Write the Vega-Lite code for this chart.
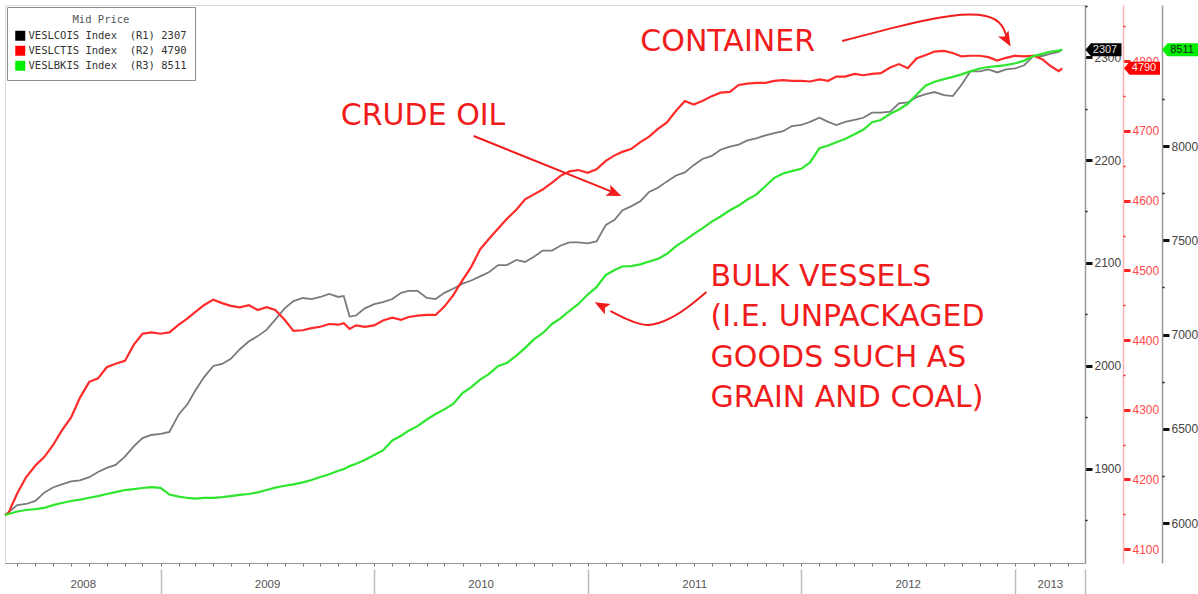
{
  "$schema": "https://vega.github.io/schema/vega-lite/v6.json",
  "width": 1080,
  "height": 558,
  "autosize": "none",
  "padding": {"left": 5, "top": 5, "right": 113, "bottom": 31},
  "background": "white",
  "config": {
    "view": {"stroke": "#d9d9d9"},
    "font": "Liberation Sans",
    "axis": {"grid": false, "labelFont": "Liberation Sans"},
    "legend": {
      "offset": 2, "padding": 8, "strokeColor": "#8c8c8c", "fillColor": "#ffffff",
      "titleFont": "DejaVu Sans Mono", "titleFontSize": 10.5, "titleFontWeight": "normal", "titleColor": "#555555",
      "titleAnchor": "middle", "titlePadding": 5,
      "labelFont": "DejaVu Sans Mono", "labelFontSize": 10.5, "labelColor": "#333333",
      "symbolSize": 100, "symbolStrokeWidth": 0, "rowPadding": 4, "labelOffset": 3
    }
  },
  "datasets": {
    "idx": [
      {"d": "2008-04-10", "VESLCOIS": 1855, "VESLCTIS": 4149, "VESLBKIS": 6043},
      {"d": "2008-04-16", "VESLCOIS": 1858, "VESLCTIS": 4152, "VESLBKIS": 6048},
      {"d": "2008-05-01", "VESLCOIS": 1865, "VESLCTIS": 4180, "VESLBKIS": 6061},
      {"d": "2008-05-16", "VESLCOIS": 1866, "VESLCTIS": 4203, "VESLBKIS": 6069},
      {"d": "2008-06-01", "VESLCOIS": 1869, "VESLCTIS": 4220, "VESLBKIS": 6074},
      {"d": "2008-06-16", "VESLCOIS": 1877, "VESLCTIS": 4232, "VESLBKIS": 6080},
      {"d": "2008-07-01", "VESLCOIS": 1882, "VESLCTIS": 4249, "VESLBKIS": 6095},
      {"d": "2008-07-16", "VESLCOIS": 1885, "VESLCTIS": 4270, "VESLBKIS": 6106},
      {"d": "2008-08-01", "VESLCOIS": 1888, "VESLCTIS": 4289, "VESLBKIS": 6117},
      {"d": "2008-08-16", "VESLCOIS": 1889, "VESLCTIS": 4317, "VESLBKIS": 6124},
      {"d": "2008-09-01", "VESLCOIS": 1892, "VESLCTIS": 4340, "VESLBKIS": 6134},
      {"d": "2008-09-16", "VESLCOIS": 1897, "VESLCTIS": 4345, "VESLBKIS": 6143},
      {"d": "2008-10-01", "VESLCOIS": 1901, "VESLCTIS": 4361, "VESLBKIS": 6154},
      {"d": "2008-10-16", "VESLCOIS": 1904, "VESLCTIS": 4366, "VESLBKIS": 6164},
      {"d": "2008-11-01", "VESLCOIS": 1912, "VESLCTIS": 4370, "VESLBKIS": 6175},
      {"d": "2008-11-16", "VESLCOIS": 1922, "VESLCTIS": 4393, "VESLBKIS": 6180},
      {"d": "2008-12-01", "VESLCOIS": 1930, "VESLCTIS": 4409, "VESLBKIS": 6186},
      {"d": "2008-12-16", "VESLCOIS": 1933, "VESLCTIS": 4411, "VESLBKIS": 6190},
      {"d": "2009-01-01", "VESLCOIS": 1934, "VESLCTIS": 4409, "VESLBKIS": 6187},
      {"d": "2009-01-16", "VESLCOIS": 1936, "VESLCTIS": 4411, "VESLBKIS": 6151},
      {"d": "2009-02-01", "VESLCOIS": 1953, "VESLCTIS": 4422, "VESLBKIS": 6140},
      {"d": "2009-02-16", "VESLCOIS": 1963, "VESLCTIS": 4431, "VESLBKIS": 6133},
      {"d": "2009-03-01", "VESLCOIS": 1976, "VESLCTIS": 4440, "VESLBKIS": 6130},
      {"d": "2009-03-16", "VESLCOIS": 1989, "VESLCTIS": 4450, "VESLBKIS": 6133},
      {"d": "2009-04-01", "VESLCOIS": 2000, "VESLCTIS": 4458, "VESLBKIS": 6133},
      {"d": "2009-04-16", "VESLCOIS": 2002, "VESLCTIS": 4453, "VESLBKIS": 6137},
      {"d": "2009-05-01", "VESLCOIS": 2007, "VESLCTIS": 4449, "VESLBKIS": 6143},
      {"d": "2009-05-16", "VESLCOIS": 2016, "VESLCTIS": 4447, "VESLBKIS": 6149},
      {"d": "2009-06-01", "VESLCOIS": 2024, "VESLCTIS": 4450, "VESLBKIS": 6154},
      {"d": "2009-06-16", "VESLCOIS": 2029, "VESLCTIS": 4443, "VESLBKIS": 6163},
      {"d": "2009-07-01", "VESLCOIS": 2035, "VESLCTIS": 4447, "VESLBKIS": 6175},
      {"d": "2009-07-16", "VESLCOIS": 2045, "VESLCTIS": 4443, "VESLBKIS": 6188},
      {"d": "2009-08-01", "VESLCOIS": 2056, "VESLCTIS": 4429, "VESLBKIS": 6198},
      {"d": "2009-08-16", "VESLCOIS": 2063, "VESLCTIS": 4413, "VESLBKIS": 6205},
      {"d": "2009-09-01", "VESLCOIS": 2066, "VESLCTIS": 4414, "VESLBKIS": 6216},
      {"d": "2009-09-16", "VESLCOIS": 2065, "VESLCTIS": 4417, "VESLBKIS": 6228},
      {"d": "2009-10-01", "VESLCOIS": 2067, "VESLCTIS": 4419, "VESLBKIS": 6244},
      {"d": "2009-10-16", "VESLCOIS": 2070, "VESLCTIS": 4423, "VESLBKIS": 6259},
      {"d": "2009-11-01", "VESLCOIS": 2067, "VESLCTIS": 4422, "VESLBKIS": 6277},
      {"d": "2009-11-10", "VESLCOIS": 2068, "VESLCTIS": 4424, "VESLBKIS": 6286},
      {"d": "2009-11-20", "VESLCOIS": 2048, "VESLCTIS": 4416, "VESLBKIS": 6302},
      {"d": "2009-12-01", "VESLCOIS": 2049, "VESLCTIS": 4421, "VESLBKIS": 6315},
      {"d": "2009-12-16", "VESLCOIS": 2056, "VESLCTIS": 4419, "VESLBKIS": 6334},
      {"d": "2010-01-01", "VESLCOIS": 2060, "VESLCTIS": 4421, "VESLBKIS": 6361},
      {"d": "2010-01-16", "VESLCOIS": 2062, "VESLCTIS": 4428, "VESLBKIS": 6385},
      {"d": "2010-02-01", "VESLCOIS": 2065, "VESLCTIS": 4432, "VESLBKIS": 6438},
      {"d": "2010-02-16", "VESLCOIS": 2071, "VESLCTIS": 4429, "VESLBKIS": 6463},
      {"d": "2010-03-01", "VESLCOIS": 2073, "VESLCTIS": 4433, "VESLBKIS": 6490},
      {"d": "2010-03-16", "VESLCOIS": 2073, "VESLCTIS": 4435, "VESLBKIS": 6514},
      {"d": "2010-04-01", "VESLCOIS": 2066, "VESLCTIS": 4436, "VESLBKIS": 6549},
      {"d": "2010-04-16", "VESLCOIS": 2065, "VESLCTIS": 4436, "VESLBKIS": 6578},
      {"d": "2010-05-01", "VESLCOIS": 2071, "VESLCTIS": 4448, "VESLBKIS": 6603},
      {"d": "2010-05-16", "VESLCOIS": 2075, "VESLCTIS": 4464, "VESLBKIS": 6632},
      {"d": "2010-06-01", "VESLCOIS": 2080, "VESLCTIS": 4486, "VESLBKIS": 6689},
      {"d": "2010-06-16", "VESLCOIS": 2083, "VESLCTIS": 4505, "VESLBKIS": 6721},
      {"d": "2010-07-01", "VESLCOIS": 2087, "VESLCTIS": 4530, "VESLBKIS": 6761},
      {"d": "2010-07-16", "VESLCOIS": 2091, "VESLCTIS": 4545, "VESLBKIS": 6790},
      {"d": "2010-08-01", "VESLCOIS": 2098, "VESLCTIS": 4560, "VESLBKIS": 6833},
      {"d": "2010-08-16", "VESLCOIS": 2098, "VESLCTIS": 4574, "VESLBKIS": 6849},
      {"d": "2010-09-01", "VESLCOIS": 2103, "VESLCTIS": 4587, "VESLBKIS": 6888},
      {"d": "2010-09-16", "VESLCOIS": 2101, "VESLCTIS": 4602, "VESLBKIS": 6929},
      {"d": "2010-10-01", "VESLCOIS": 2106, "VESLCTIS": 4609, "VESLBKIS": 6974},
      {"d": "2010-10-16", "VESLCOIS": 2112, "VESLCTIS": 4616, "VESLBKIS": 7007},
      {"d": "2010-11-01", "VESLCOIS": 2112, "VESLCTIS": 4626, "VESLBKIS": 7056},
      {"d": "2010-11-16", "VESLCOIS": 2117, "VESLCTIS": 4636, "VESLBKIS": 7087},
      {"d": "2010-12-01", "VESLCOIS": 2120, "VESLCTIS": 4642, "VESLBKIS": 7126},
      {"d": "2010-12-16", "VESLCOIS": 2120, "VESLCTIS": 4644, "VESLBKIS": 7162},
      {"d": "2011-01-01", "VESLCOIS": 2119, "VESLCTIS": 4640, "VESLBKIS": 7212},
      {"d": "2011-01-16", "VESLCOIS": 2121, "VESLCTIS": 4645, "VESLBKIS": 7251},
      {"d": "2011-02-01", "VESLCOIS": 2137, "VESLCTIS": 4657, "VESLBKIS": 7316},
      {"d": "2011-02-16", "VESLCOIS": 2142, "VESLCTIS": 4665, "VESLBKIS": 7342},
      {"d": "2011-03-01", "VESLCOIS": 2151, "VESLCTIS": 4670, "VESLBKIS": 7361},
      {"d": "2011-03-16", "VESLCOIS": 2155, "VESLCTIS": 4674, "VESLBKIS": 7363},
      {"d": "2011-04-01", "VESLCOIS": 2160, "VESLCTIS": 4684, "VESLBKIS": 7372},
      {"d": "2011-04-16", "VESLCOIS": 2169, "VESLCTIS": 4692, "VESLBKIS": 7387},
      {"d": "2011-05-01", "VESLCOIS": 2173, "VESLCTIS": 4703, "VESLBKIS": 7401},
      {"d": "2011-05-16", "VESLCOIS": 2179, "VESLCTIS": 4712, "VESLBKIS": 7427},
      {"d": "2011-06-01", "VESLCOIS": 2185, "VESLCTIS": 4729, "VESLBKIS": 7469},
      {"d": "2011-06-16", "VESLCOIS": 2188, "VESLCTIS": 4743, "VESLBKIS": 7499},
      {"d": "2011-07-01", "VESLCOIS": 2195, "VESLCTIS": 4738, "VESLBKIS": 7533},
      {"d": "2011-07-16", "VESLCOIS": 2201, "VESLCTIS": 4743, "VESLBKIS": 7563},
      {"d": "2011-08-01", "VESLCOIS": 2204, "VESLCTIS": 4750, "VESLBKIS": 7599},
      {"d": "2011-08-16", "VESLCOIS": 2210, "VESLCTIS": 4755, "VESLBKIS": 7626},
      {"d": "2011-09-01", "VESLCOIS": 2213, "VESLCTIS": 4756, "VESLBKIS": 7659},
      {"d": "2011-09-16", "VESLCOIS": 2215, "VESLCTIS": 4766, "VESLBKIS": 7684},
      {"d": "2011-10-01", "VESLCOIS": 2219, "VESLCTIS": 4768, "VESLBKIS": 7716},
      {"d": "2011-10-16", "VESLCOIS": 2221, "VESLCTIS": 4769, "VESLBKIS": 7742},
      {"d": "2011-11-01", "VESLCOIS": 2224, "VESLCTIS": 4769, "VESLBKIS": 7788},
      {"d": "2011-11-16", "VESLCOIS": 2226, "VESLCTIS": 4772, "VESLBKIS": 7831},
      {"d": "2011-12-01", "VESLCOIS": 2228, "VESLCTIS": 4773, "VESLBKIS": 7854},
      {"d": "2011-12-16", "VESLCOIS": 2233, "VESLCTIS": 4772, "VESLBKIS": 7867},
      {"d": "2012-01-01", "VESLCOIS": 2234, "VESLCTIS": 4772, "VESLBKIS": 7879},
      {"d": "2012-01-16", "VESLCOIS": 2237, "VESLCTIS": 4771, "VESLBKIS": 7913},
      {"d": "2012-02-01", "VESLCOIS": 2241, "VESLCTIS": 4774, "VESLBKIS": 7988},
      {"d": "2012-02-16", "VESLCOIS": 2237, "VESLCTIS": 4772, "VESLBKIS": 8003},
      {"d": "2012-03-01", "VESLCOIS": 2234, "VESLCTIS": 4778, "VESLBKIS": 8020},
      {"d": "2012-03-16", "VESLCOIS": 2237, "VESLCTIS": 4778, "VESLBKIS": 8037},
      {"d": "2012-04-01", "VESLCOIS": 2239, "VESLCTIS": 4782, "VESLBKIS": 8062},
      {"d": "2012-04-16", "VESLCOIS": 2241, "VESLCTIS": 4780, "VESLBKIS": 8086},
      {"d": "2012-05-01", "VESLCOIS": 2246, "VESLCTIS": 4782, "VESLBKIS": 8126},
      {"d": "2012-05-16", "VESLCOIS": 2246, "VESLCTIS": 4783, "VESLBKIS": 8138},
      {"d": "2012-06-01", "VESLCOIS": 2247, "VESLCTIS": 4791, "VESLBKIS": 8171},
      {"d": "2012-06-16", "VESLCOIS": 2255, "VESLCTIS": 4796, "VESLBKIS": 8194},
      {"d": "2012-07-01", "VESLCOIS": 2256, "VESLCTIS": 4790, "VESLBKIS": 8224},
      {"d": "2012-07-16", "VESLCOIS": 2261, "VESLCTIS": 4804, "VESLBKIS": 8272},
      {"d": "2012-08-01", "VESLCOIS": 2264, "VESLCTIS": 4809, "VESLBKIS": 8321},
      {"d": "2012-08-16", "VESLCOIS": 2266, "VESLCTIS": 4814, "VESLBKIS": 8341},
      {"d": "2012-09-01", "VESLCOIS": 2263, "VESLCTIS": 4815, "VESLBKIS": 8355},
      {"d": "2012-09-16", "VESLCOIS": 2262, "VESLCTIS": 4812, "VESLBKIS": 8367},
      {"d": "2012-10-01", "VESLCOIS": 2273, "VESLCTIS": 4807, "VESLBKIS": 8380},
      {"d": "2012-10-16", "VESLCOIS": 2286, "VESLCTIS": 4808, "VESLBKIS": 8396},
      {"d": "2012-11-01", "VESLCOIS": 2286, "VESLCTIS": 4808, "VESLBKIS": 8411},
      {"d": "2012-11-16", "VESLCOIS": 2288, "VESLCTIS": 4806, "VESLBKIS": 8419},
      {"d": "2012-12-01", "VESLCOIS": 2285, "VESLCTIS": 4801, "VESLBKIS": 8424},
      {"d": "2012-12-16", "VESLCOIS": 2288, "VESLCTIS": 4805, "VESLBKIS": 8429},
      {"d": "2013-01-01", "VESLCOIS": 2289, "VESLCTIS": 4808, "VESLBKIS": 8439},
      {"d": "2013-01-16", "VESLCOIS": 2292, "VESLCTIS": 4807, "VESLBKIS": 8453},
      {"d": "2013-02-01", "VESLCOIS": 2301, "VESLCTIS": 4808, "VESLBKIS": 8477},
      {"d": "2013-02-16", "VESLCOIS": 2301, "VESLCTIS": 4803, "VESLBKIS": 8489},
      {"d": "2013-03-01", "VESLCOIS": 2303, "VESLCTIS": 4794, "VESLBKIS": 8500},
      {"d": "2013-03-16", "VESLCOIS": 2305, "VESLCTIS": 4786, "VESLBKIS": 8506},
      {"d": "2013-03-22", "VESLCOIS": 2307, "VESLCTIS": 4790, "VESLBKIS": 8511}
    ],
    "tags": [
      {"k": "R1", "series": "VESLCOIS Index\u00a0 (R1) 2307", "d": "2013-04-30", "v": 2307},
      {"k": "R2", "series": "VESLCTIS Index\u00a0 (R2) 4790", "d": "2013-04-30", "v": 4790},
      {"k": "R3", "series": "VESLBKIS Index\u00a0 (R3) 8511", "d": "2013-04-30", "v": 8511}
    ],
    "notes": [
      {"d": "2011-04-01", "v": 2305.8, "t": ["CONTAINER"]},
      {"d": "2009-11-05", "v": 2234, "t": ["CRUDE OIL"]},
      {"d": "2011-07-30", "v": 2077.7, "t": ["BULK VESSELS", "(I.E. UNPACKAGED", "GOODS SUCH AS", "GRAIN AND COAL)"]}
    ],
    "arrows": [
      {"g": "C", "i": 1, "d": "2012-03-11", "v": 2315.5},
      {"g": "C", "i": 2, "d": "2012-06-18", "v": 2330},
      {"g": "C", "i": 3, "d": "2012-09-12", "v": 2339.8},
      {"g": "C", "i": 4, "d": "2012-11-11", "v": 2339.8},
      {"g": "C", "i": 5, "d": "2012-12-08", "v": 2331},
      {"g": "C", "i": 6, "d": "2012-12-17", "v": 2320},
      {"g": "O", "i": 1, "d": "2010-06-20", "v": 2223.3},
      {"g": "O", "i": 2, "d": "2011-02-12", "v": 2169},
      {"g": "B", "i": 1, "d": "2011-07-23", "v": 2071.8},
      {"g": "B", "i": 2, "d": "2011-06-26", "v": 2059.2},
      {"g": "B", "i": 3, "d": "2011-05-23", "v": 2046.6},
      {"g": "B", "i": 4, "d": "2011-04-15", "v": 2039.8},
      {"g": "B", "i": 5, "d": "2011-03-12", "v": 2044.7},
      {"g": "B", "i": 6, "d": "2011-02-09", "v": 2053.4}
    ],
    "heads": [
      {"g": "C", "d": "2012-12-17", "v": 2317},
      {"g": "O", "d": "2011-02-15", "v": 2168},
      {"g": "B", "d": "2011-01-25", "v": 2058.2}
    ]
  },
  "layer": [
    {
      "resolve": {"axis": {"y": "independent", "x": "independent"}},
      "layer": [
        {
          "data": {"name": "idx"},
          "mark": {"type": "line", "color": "#7a7a7a", "strokeWidth": 1.8},
          "encoding": {
            "x": {"field": "d", "type": "temporal",
              "scale": {"domain": [{"year": 2008, "month": 4, "date": 10}, {"year": 2013, "month": 4, "date": 30}]},
              "axis": {"orient": "bottom", "tickCount": {"interval": "month", "step": 1}, "labels": false, "tickSize": 3, "tickColor": "#777777", "domainColor": "#999999", "domainWidth": 1, "grid": false, "title": null}},
            "y": {"field": "VESLCOIS", "type": "quantitative",
              "scale": {"domain": [1808.7, 2350.5], "nice": false, "zero": false},
              "axis": {"orient": "right", "offset": 0, "values": [1900, 2000, 2100, 2200, 2300], "format": "d",
                "tickSize": 7, "tickWidth": 3,
                "tickColor": "#111111", "domainColor": "#999999", "domainWidth": 1.5,
                "labelColor": "#444444", "labelFontSize": 12, "labelPadding": 2, "grid": false, "title": null}}
          }
        },
        {
          "data": {"name": "arrows"},
          "mark": {"type": "line", "color": "#f01c1c", "strokeWidth": 2, "interpolate": "natural"},
          "encoding": {
            "x": {"field": "d", "type": "temporal", "scale": {"domain": [{"year": 2008, "month": 4, "date": 10}, {"year": 2013, "month": 4, "date": 30}]}, "axis": null},
            "y": {"field": "v", "type": "quantitative", "scale": {"domain": [1808.7, 2350.5], "nice": false, "zero": false},
              "axis": {"orient": "right", "offset": 0, "values": [1850, 1950, 2050, 2150, 2250, 2350], "labels": false, "domain": false, "tickSize": 2, "tickWidth": 1.5, "tickColor": "#111111", "grid": false, "title": null}},
            "detail": {"field": "g", "type": "nominal"},
            "order": {"field": "i", "type": "quantitative"}
          }
        },
        {
          "data": {"name": "heads"},
          "transform": [{"filter": "datum.g === 'C'"}],
          "mark": {"type": "point", "shape": "M0,-1 L0.75,0.85 L0,0.45 L-0.75,0.85 Z", "size": 256, "filled": true, "color": "#f01c1c", "opacity": 1, "angle": 150},
          "encoding": {
            "x": {"field": "d", "type": "temporal", "scale": {"domain": [{"year": 2008, "month": 4, "date": 10}, {"year": 2013, "month": 4, "date": 30}]}, "axis": null},
            "y": {"field": "v", "type": "quantitative", "scale": {"domain": [1808.7, 2350.5], "nice": false, "zero": false}, "axis": null}
          }
        },
        {
          "data": {"name": "heads"},
          "transform": [{"filter": "datum.g === 'O'"}],
          "mark": {"type": "point", "shape": "M0,-1 L0.75,0.85 L0,0.45 L-0.75,0.85 Z", "size": 256, "filled": true, "color": "#f01c1c", "opacity": 1, "angle": 113},
          "encoding": {
            "x": {"field": "d", "type": "temporal", "scale": {"domain": [{"year": 2008, "month": 4, "date": 10}, {"year": 2013, "month": 4, "date": 30}]}, "axis": null},
            "y": {"field": "v", "type": "quantitative", "scale": {"domain": [1808.7, 2350.5], "nice": false, "zero": false}, "axis": null}
          }
        },
        {
          "data": {"name": "heads"},
          "transform": [{"filter": "datum.g === 'B'"}],
          "mark": {"type": "point", "shape": "M0,-1 L0.75,0.85 L0,0.45 L-0.75,0.85 Z", "size": 256, "filled": true, "color": "#f01c1c", "opacity": 1, "angle": 298},
          "encoding": {
            "x": {"field": "d", "type": "temporal", "scale": {"domain": [{"year": 2008, "month": 4, "date": 10}, {"year": 2013, "month": 4, "date": 30}]}, "axis": null},
            "y": {"field": "v", "type": "quantitative", "scale": {"domain": [1808.7, 2350.5], "nice": false, "zero": false}, "axis": null}
          }
        },
        {
          "data": {"name": "notes"},
          "mark": {"type": "text", "align": "left", "baseline": "alphabetic", "font": "DejaVu Sans", "fontSize": 30, "lineHeight": 40.5, "color": "#f01c1c"},
          "encoding": {
            "x": {"field": "d", "type": "temporal", "scale": {"domain": [{"year": 2008, "month": 4, "date": 10}, {"year": 2013, "month": 4, "date": 30}]}, "axis": null},
            "y": {"field": "v", "type": "quantitative", "scale": {"domain": [1808.7, 2350.5], "nice": false, "zero": false}, "axis": null},
            "text": {"field": "t", "type": "nominal"}
          }
        },
        {
          "data": {"name": "tags"},
          "transform": [{"filter": "datum.k === 'R1'"}],
          "mark": {"type": "point", "shape": "M0.05,0 L0.6,-0.65 L3.65,-0.65 L3.65,0.65 L0.6,0.65 Z", "size": 400, "filled": true, "opacity": 1, "strokeWidth": 0},
          "encoding": {
            "x": {"field": "d", "type": "temporal", "scale": {"domain": [{"year": 2008, "month": 4, "date": 10}, {"year": 2013, "month": 4, "date": 30}]}, "axis": null},
            "y": {"field": "v", "type": "quantitative", "scale": {"domain": [1808.7, 2350.5], "nice": false, "zero": false}, "axis": null},
            "fill": {"field": "series", "type": "nominal",
              "scale": {"domain": ["VESLCOIS Index\u00a0 (R1) 2307", "VESLCTIS Index\u00a0 (R2) 4790", "VESLBKIS Index\u00a0 (R3) 8511"], "range": ["#000000", "#ff0000", "#00ee00"]},
              "legend": {"title": "Mid Price", "orient": "top-left", "symbolType": "square"}}
          }
        },
        {
          "data": {"name": "tags"},
          "transform": [{"filter": "datum.k === 'R1'"}],
          "mark": {"type": "text", "dx": 20, "align": "center", "baseline": "middle", "fontSize": 11, "color": "#e0e0e0"},
          "encoding": {
            "x": {"field": "d", "type": "temporal", "scale": {"domain": [{"year": 2008, "month": 4, "date": 10}, {"year": 2013, "month": 4, "date": 30}]}, "axis": null},
            "y": {"field": "v", "type": "quantitative", "scale": {"domain": [1808.7, 2350.5], "nice": false, "zero": false}, "axis": null},
            "text": {"field": "v", "type": "quantitative", "format": "d"}
          }
        }
      ]
    },
    {
      "resolve": {"axis": {"y": "independent", "x": "independent"}},
      "layer": [
        {
          "data": {"name": "idx"},
          "mark": {"type": "line", "color": "#ff2b2b", "strokeWidth": 2.2},
          "encoding": {
            "x": {"field": "d", "type": "temporal",
              "scale": {"domain": [{"year": 2008, "month": 4, "date": 10}, {"year": 2013, "month": 4, "date": 30}]},
              "axis": {"orient": "bottom", "values": [{"year": 2009, "month": 1, "date": 1}, {"year": 2010, "month": 1, "date": 1}, {"year": 2011, "month": 1, "date": 1}, {"year": 2012, "month": 1, "date": 1}, {"year": 2013, "month": 1, "date": 1}, {"year": 2013, "month": 4, "date": 30}],
                "labels": false, "domain": false, "offset": 6, "tickSize": 25, "tickColor": "#bdbdbd", "tickWidth": 1.5, "grid": false, "title": null}},
            "y": {"field": "VESLCTIS", "type": "quantitative",
              "scale": {"domain": [4080, 4880.8], "nice": false, "zero": false},
              "axis": {"orient": "right", "offset": 38, "values": [4100, 4200, 4300, 4400, 4500, 4600, 4700, 4800], "format": "d",
                "tickSize": 7, "tickWidth": 3,
                "tickColor": "#ff2020", "domainColor": "#ffb0b0", "domainWidth": 1.5,
                "labelColor": "#ff4a4a", "labelFontSize": 12, "labelPadding": 2, "grid": false, "title": null}}
          }
        },
        {
          "data": {"name": "tags"},
          "transform": [{"filter": "datum.k === 'R2'"}],
          "mark": {"type": "point", "shape": "M3.9,0 L4.45,-0.65 L7.5,-0.65 L7.5,0.65 L4.45,0.65 Z", "size": 400, "filled": true, "opacity": 1, "strokeWidth": 0},
          "encoding": {
            "x": {"field": "d", "type": "temporal", "scale": {"domain": [{"year": 2008, "month": 4, "date": 10}, {"year": 2013, "month": 4, "date": 30}]}, "axis": null},
            "y": {"field": "v", "type": "quantitative", "scale": {"domain": [4080, 4880.8], "nice": false, "zero": false},
              "axis": {"orient": "right", "offset": 38, "values": [4150, 4250, 4350, 4450, 4550, 4650, 4750, 4850], "labels": false, "domain": false, "tickSize": 2, "tickWidth": 1.5, "tickColor": "#ff2020", "grid": false, "title": null}},
            "fill": {"field": "series", "type": "nominal",
              "scale": {"domain": ["VESLCOIS Index\u00a0 (R1) 2307", "VESLCTIS Index\u00a0 (R2) 4790", "VESLBKIS Index\u00a0 (R3) 8511"], "range": ["#000000", "#ff0000", "#00ee00"]},
              "legend": {"title": "Mid Price", "orient": "top-left", "symbolType": "square"}}
          }
        },
        {
          "data": {"name": "tags"},
          "transform": [{"filter": "datum.k === 'R2'"}],
          "mark": {"type": "text", "dx": 59, "align": "center", "baseline": "middle", "fontSize": 11, "color": "#ffecec"},
          "encoding": {
            "x": {"field": "d", "type": "temporal", "scale": {"domain": [{"year": 2008, "month": 4, "date": 10}, {"year": 2013, "month": 4, "date": 30}]}, "axis": null},
            "y": {"field": "v", "type": "quantitative", "scale": {"domain": [4080, 4880.8], "nice": false, "zero": false}, "axis": null},
            "text": {"field": "v", "type": "quantitative", "format": "d"}
          }
        }
      ]
    },
    {
      "resolve": {"axis": {"y": "independent", "x": "independent"}},
      "layer": [
        {
          "data": {"name": "idx"},
          "mark": {"type": "line", "color": "#2ee62e", "strokeWidth": 2.2},
          "encoding": {
            "x": {"field": "d", "type": "temporal",
              "scale": {"domain": [{"year": 2008, "month": 4, "date": 10}, {"year": 2013, "month": 4, "date": 30}]},
              "axis": {"orient": "bottom", "values": [{"year": 2008, "month": 8, "date": 21}, {"year": 2009, "month": 7, "date": 2}, {"year": 2010, "month": 7, "date": 2}, {"year": 2011, "month": 7, "date": 2}, {"year": 2012, "month": 7, "date": 1}, {"year": 2013, "month": 3, "date": 1}],
                "format": "%Y", "ticks": false, "domain": false, "labelPadding": 15, "labelFontSize": 11.5, "labelColor": "#555555",
                "labelFlush": false, "labelOverlap": false, "grid": false, "title": null}},
            "y": {"field": "VESLBKIS", "type": "quantitative",
              "scale": {"domain": [5788, 8748], "nice": false, "zero": false},
              "axis": {"orient": "right", "offset": 77, "values": [6000, 6500, 7000, 7500, 8000], "format": "d",
                "tickSize": 7, "tickWidth": 3,
                "tickColor": "#111111", "domainColor": "#999999", "domainWidth": 1.5,
                "labelColor": "#444444", "labelFontSize": 12, "labelPadding": 2, "grid": false, "title": null}}
          }
        },
        {
          "data": {"name": "tags"},
          "transform": [{"filter": "datum.k === 'R3'"}],
          "mark": {"type": "point", "shape": "M7.7,0 L8.25,-0.65 L11.4,-0.65 L11.4,0.65 L8.25,0.65 Z", "size": 400, "filled": true, "opacity": 1, "strokeWidth": 0},
          "encoding": {
            "x": {"field": "d", "type": "temporal", "scale": {"domain": [{"year": 2008, "month": 4, "date": 10}, {"year": 2013, "month": 4, "date": 30}]}, "axis": null},
            "y": {"field": "v", "type": "quantitative", "scale": {"domain": [5788, 8748], "nice": false, "zero": false},
              "axis": {"orient": "right", "offset": 77, "values": [6250, 6750, 7250, 7750, 8250], "labels": false, "domain": false, "tickSize": 2, "tickWidth": 1.5, "tickColor": "#111111", "grid": false, "title": null}},
            "fill": {"field": "series", "type": "nominal",
              "scale": {"domain": ["VESLCOIS Index\u00a0 (R1) 2307", "VESLCTIS Index\u00a0 (R2) 4790", "VESLBKIS Index\u00a0 (R3) 8511"], "range": ["#000000", "#ff0000", "#00ee00"]},
              "legend": {"title": "Mid Price", "orient": "top-left", "symbolType": "square"}}
          }
        },
        {
          "data": {"name": "tags"},
          "transform": [{"filter": "datum.k === 'R3'"}],
          "mark": {"type": "text", "dx": 97, "align": "center", "baseline": "middle", "fontSize": 11, "color": "#1a1a1a"},
          "encoding": {
            "x": {"field": "d", "type": "temporal", "scale": {"domain": [{"year": 2008, "month": 4, "date": 10}, {"year": 2013, "month": 4, "date": 30}]}, "axis": null},
            "y": {"field": "v", "type": "quantitative", "scale": {"domain": [5788, 8748], "nice": false, "zero": false}, "axis": null},
            "text": {"field": "v", "type": "quantitative", "format": "d"}
          }
        }
      ]
    }
  ],
  "resolve": {"scale": {"y": "independent"}, "axis": {"y": "independent", "x": "independent"}}
}
